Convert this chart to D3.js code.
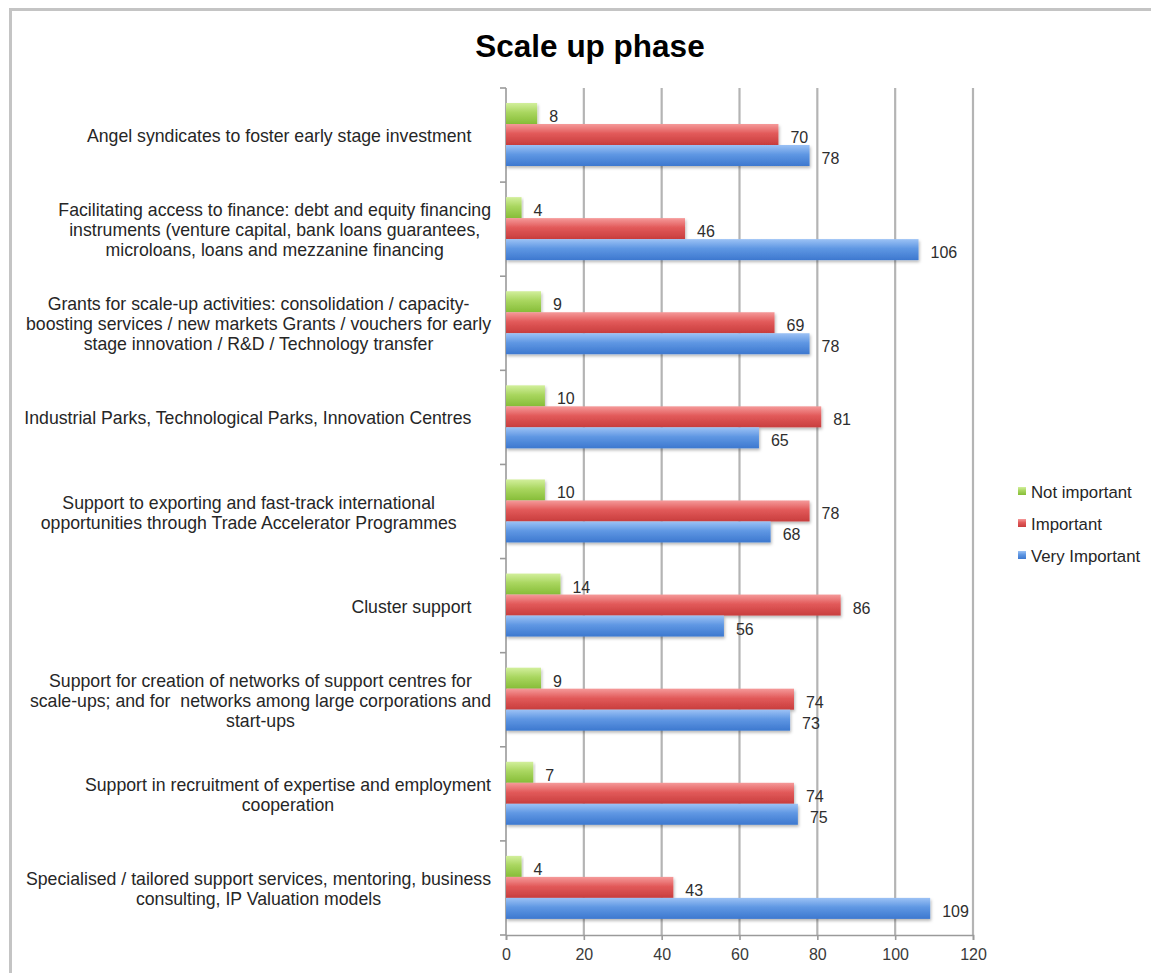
<!DOCTYPE html>
<html>
<head>
<meta charset="utf-8">
<script src="https://cdn.jsdelivr.net/npm/d3@7"></script>
<style>
  html, body { margin: 0; padding: 0; background: #fff; }
  svg { display: block; font-family: "Liberation Sans", Arial, Helvetica, sans-serif; }
  .cat { white-space: pre; }
</style>
</head>
<body>
<svg id="chart" width="1151" height="973"></svg>
<script>
// Survey answers per measure, one line per wrapped row of the category label
const categories = [
  "Angel syndicates to foster early stage investment    ",
  "Facilitating access to finance: debt and equity financing\ninstruments (venture capital, bank loans guarantees,\nmicroloans, loans and mezzanine financing",
  "Grants for scale-up activities: consolidation / capacity-\nboosting services / new markets Grants / vouchers for early\nstage innovation / R&D / Technology transfer",
  "Industrial Parks, Technological Parks, Innovation Centres    ",
  "Support to exporting and fast-track international       \nopportunities through Trade Accelerator Programmes       ",
  "Cluster support    ",
  "Support for creation of networks of support centres for\nscale-ups; and for  networks among large corporations and\nstart-ups",
  "Support in recruitment of expertise and employment\ncooperation",
  "Specialised / tailored support services, mentoring, business\nconsulting, IP Valuation models"
];
const seriesNames = ["Not important", "Important", "Very Important"];
const notImportant  = [8, 4, 9, 10, 10, 14, 9, 7, 4];
const important     = [70, 46, 69, 81, 78, 86, 74, 74, 43];
const veryImportant = [78, 106, 78, 65, 68, 56, 73, 75, 109];
const xTicks = [0, 20, 40, 60, 80, 100, 120];
const title = "Scale up phase";

const seriesValues = [notImportant, important, veryImportant];
const colors = [
  { top: "#d2ef9c", mid: "#a9d65f", bot: "#86bd38" },
  { top: "#f59a9a", mid: "#e25a5a", bot: "#c83d3d" },
  { top: "#9cc2f5", mid: "#5f97e3", bot: "#3d78cf" }
];

const svg = d3.select("#chart");
const defs = svg.append("defs");

colors.forEach((c, i) => {
  const g = defs.append("linearGradient")
    .attr("id", "grad" + i).attr("x1", 0).attr("y1", 0).attr("x2", 0).attr("y2", 1);
  g.append("stop").attr("offset", "0%").attr("stop-color", c.top);
  g.append("stop").attr("offset", "45%").attr("stop-color", c.mid);
  g.append("stop").attr("offset", "100%").attr("stop-color", c.bot);
});
const shadow = defs.append("filter").attr("id", "barShadow")
  .attr("x", "-5%").attr("y", "-30%").attr("width", "115%").attr("height", "170%");
shadow.append("feDropShadow").attr("dx", 1).attr("dy", 2)
  .attr("stdDeviation", 1.4).attr("flood-color", "#000").attr("flood-opacity", 0.28);

// outer frame
svg.append("rect")
  .attr("x", 10.5).attr("y", 9.5).attr("width", 1300).attr("height", 1100)
  .attr("fill", "none").attr("stroke", "#c4c4c4").attr("stroke-width", 3);

// title
svg.append("text")
  .attr("x", 590).attr("y", 57)
  .attr("text-anchor", "middle")
  .attr("font-size", 31.5).attr("font-weight", "bold").attr("fill", "#000")
  .text(title);

const plot = { left: 506, right: 973, top: 88, bottom: 935 };

const x = d3.scaleLinear().domain([0, 120]).range([plot.left, plot.right]);
const y0 = d3.scaleBand().domain(d3.range(categories.length)).range([plot.top, plot.bottom]).padding(0);
const y1 = d3.scaleBand().domain(d3.range(seriesNames.length)).range([15, 78]).padding(0);

// vertical grid lines
svg.append("g").selectAll("line")
  .data(xTicks.filter(t => t > 0))
  .join("line")
  .attr("x1", d => x(d)).attr("x2", d => x(d))
  .attr("y1", plot.top).attr("y2", plot.bottom)
  .attr("stroke", "#b4b4b4").attr("stroke-width", 2.2);

// bottom axis
const xAxis = d3.axisBottom(x).tickValues(xTicks).tickSize(5).tickPadding(9);
const gx = svg.append("g").attr("transform", `translate(0,${plot.bottom})`).call(xAxis);
gx.select(".domain").attr("stroke", "#9a9a9a").attr("stroke-width", 1.6);
gx.selectAll(".tick line").attr("stroke", "#9a9a9a").attr("stroke-width", 1.6);
gx.selectAll(".tick text")
  .attr("font-size", 16).attr("fill", "#3a3a3a")
  .attr("font-family", "Liberation Sans, Arial, sans-serif");

// left axis line with ticks at category boundaries
const boundaries = d3.range(categories.length + 1).map(i => plot.top + i * y0.step());
svg.append("line")
  .attr("x1", plot.left).attr("x2", plot.left)
  .attr("y1", plot.top).attr("y2", plot.bottom)
  .attr("stroke", "#9a9a9a").attr("stroke-width", 1.6);
svg.append("g").selectAll("line")
  .data(boundaries)
  .join("line")
  .attr("x1", plot.left - 6).attr("x2", plot.left)
  .attr("y1", d => d).attr("y2", d => d)
  .attr("stroke", "#9a9a9a").attr("stroke-width", 1.6);

// bars
const groups = svg.append("g").selectAll("g")
  .data(categories.map((c, i) => i))
  .join("g")
  .attr("transform", i => `translate(0,${y0(i)})`);

groups.each(function (ci) {
  const g = d3.select(this);
  const rows = seriesValues.map((vals, si) => ({ si, v: vals[ci] }));
  g.selectAll("rect")
    .data(rows)
    .join("rect")
    .attr("x", x(0))
    .attr("y", d => y1(d.si))
    .attr("width", d => x(d.v) - x(0))
    .attr("height", y1.bandwidth())
    .attr("fill", d => `url(#grad${d.si})`)
    .attr("filter", "url(#barShadow)");
  g.selectAll("text")
    .data(rows)
    .join("text")
    .attr("x", d => x(d.v) + 12)
    .attr("y", d => y1(d.si) + y1.bandwidth() / 2 + 3)
    .attr("dominant-baseline", "central")
    .attr("font-size", 16).attr("fill", "#2e2e2e")
    .text(d => d.v);
});

// category labels: block right-aligned to the axis, lines centred inside the block
const labelRight = 491;
const lineH = 20;
const labels = svg.append("g").attr("font-size", 17.7).attr("fill", "#262626");
categories.forEach((cat, i) => {
  const lines = cat.split("\n");
  const cy = y0(i) + y0.bandwidth() / 2 + 1;
  const t = labels.append("text").attr("class", "cat").attr("text-anchor", "middle");
  const spans = lines.map((ln, k) => t.append("tspan")
    .attr("y", cy + (k - (lines.length - 1) / 2) * lineH)
    .attr("dominant-baseline", "central")
    .text(ln));
  const widths = spans.map(s => s.node().getComputedTextLength());
  const blockW = d3.max(widths);
  spans.forEach(s => s.attr("x", labelRight - blockW / 2));
});

// legend
const legend = svg.append("g").attr("transform", "translate(1018,492)");
seriesNames.forEach((name, i) => {
  const row = legend.append("g").attr("transform", `translate(0,${i * 32})`);
  row.append("rect").attr("x", 0).attr("y", -5).attr("width", 8).attr("height", 8)
    .attr("fill", `url(#grad${i})`);
  row.append("text").attr("x", 13).attr("y", 0)
    .attr("dominant-baseline", "central")
    .attr("font-size", 16.8).attr("fill", "#262626")
    .text(name);
});
</script>
</body>
</html>
